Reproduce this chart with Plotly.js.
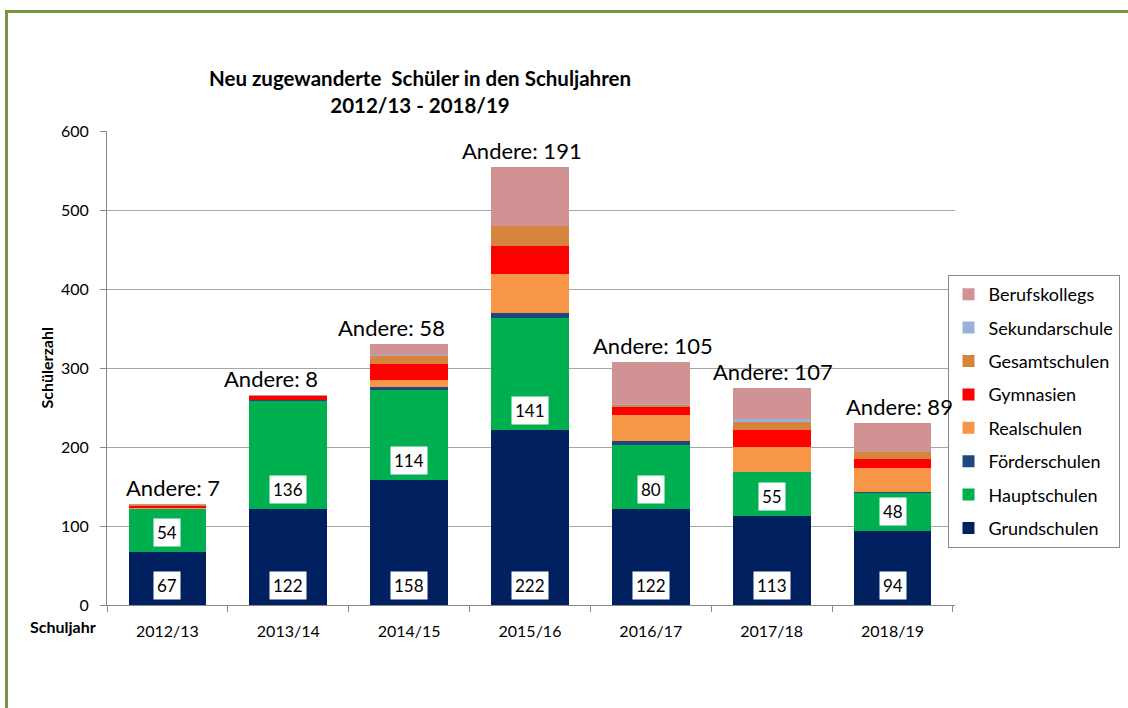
<!DOCTYPE html>
<html>
<head>
<meta charset="utf-8">
<script src="https://cdn.plot.ly/plotly-3.0.1.min.js"></script>
<style>
  html, body { margin: 0; padding: 0; background: #ffffff; }
  #frame { position: absolute; left: 5px; top: 10px; width: 1140px; height: 720px; border: 3px solid #77933C; box-sizing: border-box; }
  #chart { position: absolute; left: 0; top: 0; width: 1128px; height: 708px; }
</style>
</head>
<body>
<div id="frame"></div>
<div id="chart"></div>
<script>
const categories = ["2012/13", "2013/14", "2014/15", "2015/16", "2016/17", "2017/18", "2018/19"];
const grundschulen   = [67, 122, 158, 222, 122, 113, 94];
const hauptschulen   = [54, 136, 114, 141, 80, 55, 48];
const foerderschulen = [0, 1, 4, 6, 5, 0, 1];
const realschulen    = [2, 1, 9, 50, 33, 32, 31];
const gymnasien      = [2, 5, 20, 35, 11, 22, 11];
const gesamtschulen  = [1, 0, 10, 26, 2, 10, 9];
const sekundarschule = [0, 0, 1, 0, 2, 4, 0];
const berufskollegs  = [2, 1, 14, 74, 52, 39, 37];
const andere         = [7, 8, 58, 191, 105, 107, 89];
// horizontal nudge (px) of the hand-placed "Andere" labels
const andereShift    = [6, -17, -18, -8, 2, 1, 7];

const FONT = "Lato, 'Open Sans', sans-serif";

const series = [
  {name: "Grundschulen",   y: grundschulen,   color: "#002060"},
  {name: "Hauptschulen",   y: hauptschulen,   color: "#00B050"},
  {name: "Förderschulen",  y: foerderschulen, color: "#1F497D"},
  {name: "Realschulen",    y: realschulen,    color: "#F79646"},
  {name: "Gymnasien",      y: gymnasien,      color: "#FF0000"},
  {name: "Gesamtschulen",  y: gesamtschulen,  color: "#D9843C"},
  {name: "Sekundarschule", y: sekundarschule, color: "#95B3D7"},
  {name: "Berufskollegs",  y: berufskollegs,  color: "#D09293"}
];

const traces = series.map((s, i) => ({
  type: "bar",
  name: s.name,
  x: categories,
  y: s.y,
  legendgroup: "g" + i,
  legendrank: 100 - i,
  marker: {color: s.color, line: {width: 0}},
  hoverinfo: "x+y+name"
}));

const annotations = [];
categories.forEach((c, i) => {
  annotations.push({
    x: c, y: 0, xref: "x", yref: "y", yanchor: "bottom", yshift: 5,
    text: String(grundschulen[i]), showarrow: false,
    bgcolor: "#ffffff", borderpad: 3,
    font: {family: FONT, size: 17, color: "#000"}
  });
  annotations.push({
    x: c, y: grundschulen[i], xref: "x", yref: "y", yanchor: "bottom", yshift: 5,
    text: String(hauptschulen[i]), showarrow: false,
    bgcolor: "#ffffff", borderpad: 3,
    font: {family: FONT, size: 17, color: "#000"}
  });
  const total = series.reduce((a, s) => a + s.y[i], 0);
  annotations.push({
    x: c, y: total, xref: "x", yref: "y", yanchor: "bottom", yshift: 1,
    xshift: andereShift[i],
    text: "Andere: " + andere[i], showarrow: false,
    font: {family: FONT, size: 22, color: "#000"}
  });
});

annotations.push({
  xref: "paper", yref: "paper", x: (45 - 106.5) / 849, y: 0.5,
  xanchor: "center", yanchor: "middle",
  text: "<b>Schülerzahl</b>", textangle: -90, showarrow: false,
  font: {family: FONT, size: 16, color: "#000"}
});
annotations.push({
  xref: "paper", yref: "paper", x: (62 - 106.5) / 849, y: -21 / 474,
  xanchor: "center", yanchor: "middle",
  text: "<b>Schuljahr</b>", showarrow: false,
  font: {family: FONT, size: 16, color: "#000"}
});

const layout = {
  width: 1128, height: 708,
  paper_bgcolor: "rgba(0,0,0,0)",
  plot_bgcolor: "rgba(0,0,0,0)",
  margin: {l: 106.5, r: 172.5, t: 131, b: 103, pad: 0, autoexpand: false},
  barmode: "stack",
  bargap: 0.357,
  font: {family: FONT, size: 16, color: "#000"},
  title: {
    text: "<b>Neu zugewanderte  Schüler in den Schuljahren<br>2012/13 - 2018/19</b>",
    x: 420 / 1128, xanchor: "center",
    y: 1 - 86 / 708, yanchor: "middle",
    font: {family: FONT, size: 20.5, color: "#000"}
  },
  xaxis: {
    type: "category",
    showgrid: false,
    showline: true, linecolor: "#888888", linewidth: 1,
    ticks: "outside", tickson: "boundaries", ticklen: 6, tickcolor: "#888888",
    ticklabelstandoff: 12,
    tickfont: {family: FONT, size: 16, color: "#000"},
    zeroline: false
  },
  yaxis: {
    range: [0, 600],
    dtick: 100,
    showgrid: true, gridcolor: "#A6A6A6", gridwidth: 1,
    showline: true, linecolor: "#888888", linewidth: 1,
    ticks: "outside", ticklen: 6, tickcolor: "#888888",
    ticklabelstandoff: 8,
    tickfont: {family: FONT, size: 16, color: "#000"},
    zeroline: false
  },
  legend: {
    x: (948 - 106.5) / 849, xanchor: "left",
    y: (605 - 275) / 474, yanchor: "top",
    traceorder: "grouped",
    tracegroupgap: 7,
    bgcolor: "#ffffff",
    bordercolor: "#888888", borderwidth: 1,
    font: {family: FONT, size: 18, color: "#000"},
    itemwidth: 30,
    entrywidth: 158
  },
  annotations: annotations,
  showlegend: true
};

Plotly.newPlot("chart", traces, layout, {displayModeBar: false, staticPlot: true});
</script>
</body>
</html>
